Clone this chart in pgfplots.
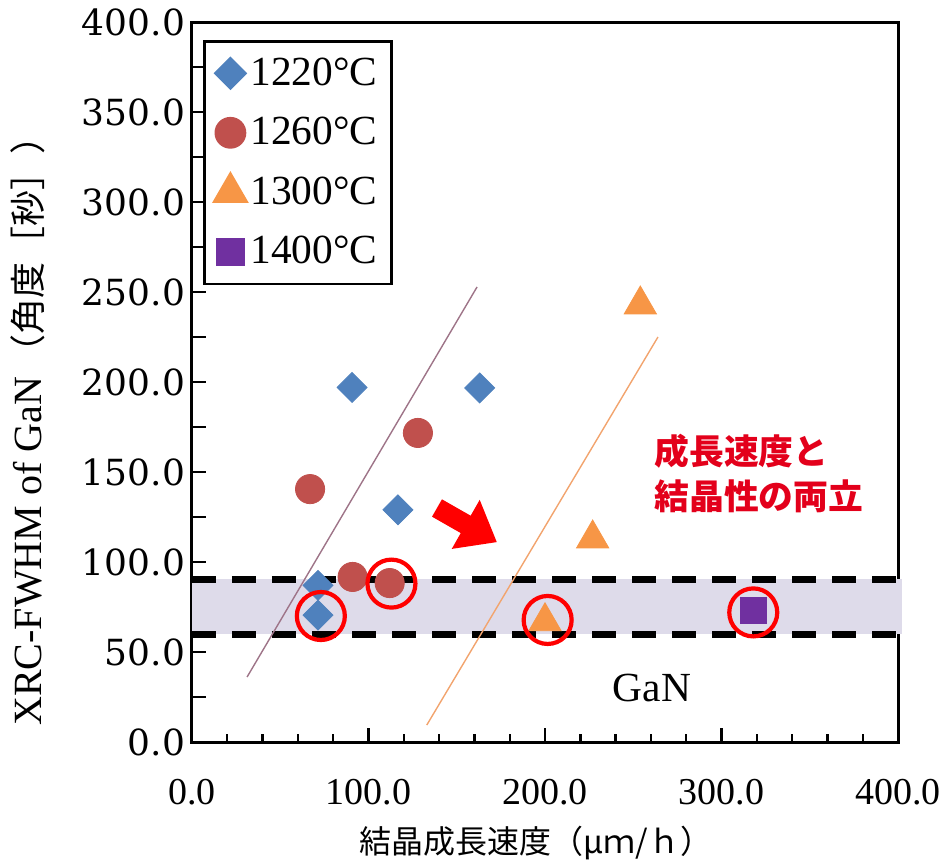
\documentclass[border=0pt]{standalone}
\usepackage{fontspec}
\usepackage{pgfplots}
\pgfplotsset{compat=1.18}
\usetikzlibrary{arrows.meta}
\setmainfont{Liberation Serif}
\newfontfamily\dvs{DejaVu Serif}
\newfontfamily\jp{Noto Sans CJK JP}

\definecolor{c1220}{HTML}{4F81BD}
\definecolor{c1260}{HTML}{C0504D}
\definecolor{c1300}{HTML}{F79646}
\definecolor{c1400}{HTML}{7030A0}
\definecolor{band}{HTML}{DEDBEA}
\definecolor{lineA}{HTML}{9E7488}
\definecolor{lineB}{HTML}{F2A46E}
\definecolor{note}{HTML}{E3001B}

\begin{document}
\begin{tikzpicture}
\begin{axis}[
  at={(0,0)}, anchor=south west,
  scale only axis, width=353pt, height=360pt,
  xmin=0, xmax=400, ymin=0, ymax=400,
  xtick={0,100,...,400}, ytick={0,50,...,400},
  minor x tick num=4,
  extra y ticks={25,75,...,375}, extra y tick labels={},
  tick align=inside, tick pos=left,
  major tick length=7pt, minor tick length=4pt,
  tick style={black, line width=1.2pt},
  axis line style={line width=1.5pt},
  clip=false,
  xticklabel style={/pgf/number format/fixed, /pgf/number format/fixed zerofill,
    /pgf/number format/precision=1, /pgf/number format/assume math mode=true,
    font=\fontsize{19}{22}\selectfont, yshift=-15pt},
  yticklabel style={/pgf/number format/fixed, /pgf/number format/fixed zerofill,
    /pgf/number format/precision=1, /pgf/number format/assume math mode=true,
    font=\dvs\fontsize{18}{20}\selectfont},
  xlabel={\jp\fontsize{16}{18}\selectfont 結晶成長速度（μｍ/ｈ）},
  xlabel style={at={(axis description cs:0.487,-0.14)}, anchor=center},
  ylabel={\fontsize{20}{22}\selectfont XRC-FWHM of GaN{\jp\fontsize{18}{20}\selectfont\,（角度［秒］）}},
  ylabel style={at={(axis description cs:-0.232,0.444)}, anchor=center},
  legend style={at={(rel axis cs:0.0156,0.975)}, anchor=north west,
    draw=black, line width=1.3pt, inner sep=5pt, row sep=7.75pt,
    font=\fontsize{20.7}{24}\selectfont,
    nodes={inner sep=2pt, text height=15pt, text depth=3pt}},
  legend cell align=left,
]
% shaded band and its dashed limits
\addplot[draw=none, fill=band, forget plot] coordinates {(0,60) (402,60) (402,90.5) (0,90.5)} -- cycle;
\addplot[black, line width=3.5pt, dash pattern=on 12pt off 8pt, forget plot] coordinates {(0,90.5) (402,90.5)};
\addplot[black, line width=3.5pt, dash pattern=on 12pt off 8pt, forget plot] coordinates {(0,60) (402,60)};

% guide lines
\addplot[lineA, line width=0.7pt, forget plot] coordinates {(31.2,36.1) (161.5,252.8)};
\addplot[lineB, line width=0.7pt, forget plot] coordinates {(133,9.4) (264,225)};

% data
\addplot[only marks, mark=square*, mark size=5.3pt, mark options={rotate=45}, color=c1220]
  coordinates {(90.7,197) (163,196.7) (116.7,129) (71.4,87) (71.4,70.5)};
\addplot[only marks, mark=*, mark size=7.3pt, color=c1260]
  coordinates {(66.9,140.5) (128,171.7) (91,91.7) (112,88.3)};
\addplot[only marks, mark=triangle*, mark size=9.3pt, color=c1300]
  coordinates {(254,243) (227,113) (200,67)};
\addplot[only marks, mark=square*, mark size=6.5pt, color=c1400]
  coordinates {(318,73)};
\legend{1220°C, 1260°C, 1300°C, 1400°C}

% highlight rings
\addplot[only marks, mark=o, mark size=12pt, red, line width=2.1pt, forget plot]
  coordinates {(73,70) (113,88) (201.5,67.8) (318,72)};

\draw[red, line width=10pt, -{Triangle[width=27pt,length=18pt]}]
  (axis cs:138.8,130) -- (axis cs:172.8,111);
\node[font=\fontsize{20.7}{24}\selectfont] at (axis cs:260.6,30) {GaN};
\node[anchor=west, align=left, text=note, font=\jp\bfseries\fontsize{17.4}{22.5}\selectfont]
  at (axis cs:258,149) {成長速度と\\結晶性の両立};
\end{axis}
\pgfresetboundingbox
\useasboundingbox (-96pt,-60.5pt) rectangle (377pt,371pt);
\end{tikzpicture}
\end{document}
